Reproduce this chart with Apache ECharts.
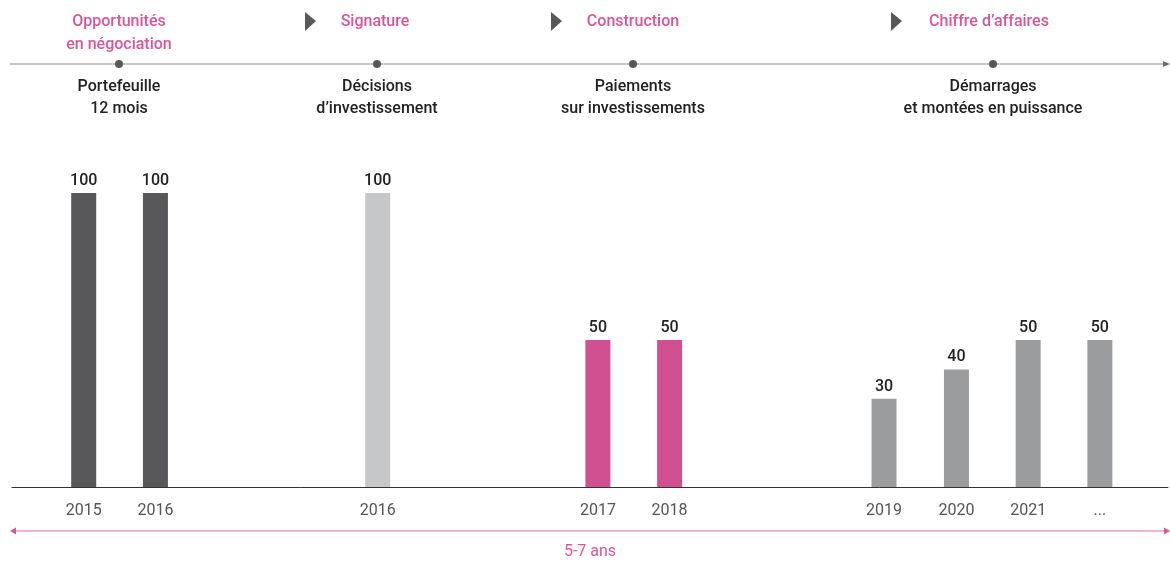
<!DOCTYPE html>
<html>
<head>
<meta charset="utf-8">
<script src="https://cdn.jsdelivr.net/npm/echarts@6/dist/echarts.min.js"></script>
<style>
  html, body { margin: 0; padding: 0; background: #fff; }
  #chart { width: 1170px; height: 562px; }
</style>
</head>
<body>
<div id="chart"></div>
<script>
// bar slots on the horizontal axis (in slot units), labels and values
const slots = [1, 2, 5.1, 8.17, 9.17, 12.16, 13.17, 14.17, 15.17];
const yearLabels = ["2015", "2016", "2016", "2017", "2018", "2019", "2020", "2021", "..."];
const values = [100, 100, 100, 50, 50, 30, 40, 50, 50];
const phase = ["portefeuille", "portefeuille", "decision", "paiement", "paiement", "demarrage", "demarrage", "demarrage", "demarrage"];

const phaseTitles = ["Opportunités\nen négociation", "Signature", "Construction", "Chiffre d’affaires"];
const phaseLabels = ["Portefeuille\n12 mois", "Décisions\nd’investissement", "Paiements\nsur investissements", "Démarrages\net montées en puissance"];
const durationLabel = "5-7 ans";

const phaseColors = {
  portefeuille: "#58585a",
  decision: "#c6c7c8",
  paiement: "#d04f91",
  demarrage: "#9b9c9e"
};

const FONT = "'Liberation Sans Narrow', 'Roboto', sans-serif";
const PINK = "#d9549a";
const DARK = "#58585a";

const chart = echarts.init(document.getElementById("chart"));

// timeline above the chart
const dotX = [119, 377, 633, 993];
const titleX = [119, 375, 633, 989];
const arrowX = [310, 556, 896];
const lineY = 64;

const graphics = [];
graphics.push({
  type: "line",
  shape: { x1: 10, y1: lineY, x2: 1164, y2: lineY },
  style: { stroke: "#8a8a8c", lineWidth: 1.2 }
});
graphics.push({
  type: "polygon",
  shape: { points: [[1163, lineY - 3], [1170, lineY], [1163, lineY + 3]] },
  style: { fill: "#6a6a6c" }
});
dotX.forEach((x) => {
  graphics.push({ type: "circle", shape: { cx: x, cy: lineY, r: 4 }, style: { fill: DARK } });
});
arrowX.forEach((x) => {
  graphics.push({
    type: "polygon",
    shape: { points: [[x - 5, 12], [x + 6, 21], [x - 5, 31]] },
    style: { fill: DARK }
  });
});
phaseTitles.forEach((t, i) => {
  graphics.push({
    type: "text",
    x: titleX[i], y: 10,
    style: { text: t, fill: PINK, font: "500 16px " + FONT, align: "center", verticalAlign: "top", lineHeight: 23 }
  });
});
phaseLabels.forEach((t, i) => {
  graphics.push({
    type: "text",
    x: dotX[i], y: 76,
    style: { text: t, fill: "#222", font: "500 16px " + FONT, align: "center", verticalAlign: "top", lineHeight: 22 }
  });
});

// duration arrow below the chart
const durY = 531;
graphics.push({
  type: "line",
  shape: { x1: 14, y1: durY, x2: 1164, y2: durY },
  style: { stroke: "#e79cc3", lineWidth: 1.5 }
});
graphics.push({
  type: "polygon",
  shape: { points: [[10, durY], [16, durY - 3.5], [16, durY + 3.5]] },
  style: { fill: PINK }
});
graphics.push({
  type: "polygon",
  shape: { points: [[1170, durY], [1164, durY - 3.5], [1164, durY + 3.5]] },
  style: { fill: PINK }
});
graphics.push({
  type: "text",
  x: 590, y: 552,
  style: { text: durationLabel, fill: PINK, font: "16px " + FONT, align: "center", verticalAlign: "middle" }
});

function labelFor(v) {
  for (let i = 0; i < slots.length; i++) {
    if (Math.abs(slots[i] - v) < 0.001) return yearLabels[i];
  }
  return "";
}

chart.setOption({
  animation: false,
  grid: { left: 12, right: 2, top: 193, bottom: 75 },
  xAxis: {
    type: "value",
    min: 0,
    max: 16.12,
    splitLine: { show: false },
    axisLine: { show: true, onZero: false, lineStyle: { color: "#333", width: 1 } },
    axisTick: { show: false },
    axisLabel: {
      customValues: slots,
      formatter: labelFor,
      color: "#555",
      fontFamily: FONT,
      fontSize: 16,
      margin: 16,
      showMinLabel: true,
      showMaxLabel: true
    }
  },
  yAxis: {
    type: "value",
    min: 0,
    max: 100,
    show: false
  },
  series: [{
    type: "bar",
    barWidth: 25,
    data: slots.map((x, i) => ({
      value: [x, values[i]],
      itemStyle: { color: phaseColors[phase[i]] }
    })),
    label: {
      show: true,
      position: "top",
      distance: 4,
      color: "#222",
      fontFamily: FONT,
      fontSize: 16,
      fontWeight: 500,
      formatter: (p) => p.value[1]
    }
  }],
  graphic: graphics
});
</script>
</body>
</html>
